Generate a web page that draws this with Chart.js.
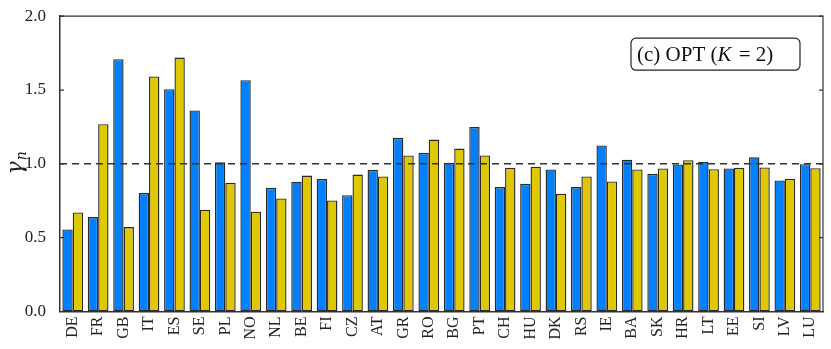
<!DOCTYPE html>
<html>
<head>
<meta charset="utf-8">
<script src="https://cdn.jsdelivr.net/npm/chart.js@4/dist/chart.umd.min.js"></script>
<style>
  html, body { margin: 0; padding: 0; background: #fff; }
  #wrap { width: 831px; height: 349px; }
</style>
</head>
<body>
<div id="wrap"><canvas id="gammaChart" width="831" height="349"></canvas></div>
<script>
// Datos
const countries = ['DE', 'FR', 'GB', 'IT', 'ES', 'SE', 'PL', 'NO', 'NL', 'BE',
  'FI', 'CZ', 'AT', 'GR', 'RO', 'BG', 'PT', 'CH', 'HU', 'DK',
  'RS', 'IE', 'BA', 'SK', 'HR', 'LT', 'EE', 'SI', 'LV', 'LU'];

const blueValues = [0.556, 0.640, 1.709, 0.802, 1.506, 1.362, 1.010, 1.567, 0.838, 0.879,
  0.897, 0.788, 0.960, 1.176, 1.075, 1.007, 1.249, 0.843, 0.865, 0.962,
  0.843, 1.125, 1.028, 0.933, 0.996, 1.012, 0.969, 1.044, 0.888, 0.998];

const yellowValues = [0.671, 1.269, 0.572, 1.592, 1.720, 0.689, 0.872, 0.675, 0.766, 0.921,
  0.752, 0.928, 0.915, 1.057, 1.165, 1.104, 1.057, 0.973, 0.980, 0.797,
  0.915, 0.881, 0.962, 0.969, 1.025, 0.964, 0.973, 0.976, 0.899, 0.971];

const yTicks = [0, 0.5, 1.0, 1.5, 2.0];
const referenceLevel = 1.0;
const panelLabel = '(c) OPT (';

const serif = '"Liberation Serif", "DejaVu Serif", serif';
const axisColor = '#333';

// Marco superior/derecho, ticks hacia dentro, linea discontinua y titulo del eje
const framePlugin = {
  id: 'frame',
  afterDatasetsDraw(chart) {
    const { ctx, chartArea: a, scales } = chart;
    const y = scales.y;
    ctx.save();

    // linea de referencia
    ctx.strokeStyle = axisColor;
    ctx.lineWidth = 1.5;
    ctx.setLineDash([7, 5]);
    const yRef = y.getPixelForValue(referenceLevel);
    ctx.beginPath();
    ctx.moveTo(a.left, yRef);
    ctx.lineTo(a.right, yRef);
    ctx.stroke();
    ctx.setLineDash([]);

    // marco
    ctx.lineWidth = 1.2;
    ctx.beginPath();
    ctx.moveTo(a.left, a.top);
    ctx.lineTo(a.right, a.top);
    ctx.lineTo(a.right, a.bottom);
    ctx.stroke();

    // ticks internos
    yTicks.forEach(v => {
      const py = y.getPixelForValue(v);
      ctx.beginPath();
      ctx.moveTo(a.left, py);
      ctx.lineTo(a.left + 4, py);
      ctx.moveTo(a.right, py);
      ctx.lineTo(a.right - 4, py);
      ctx.stroke();
    });

    // caja del panel
    const bx = a.right - 192, by = a.top + 22, bw = 169, bh = 32;
    ctx.beginPath();
    ctx.roundRect(bx, by, bw, bh, 5);
    ctx.fillStyle = '#fff';
    ctx.fill();
    ctx.lineWidth = 1.2;
    ctx.strokeStyle = '#222';
    ctx.stroke();

    ctx.fillStyle = '#111';
    ctx.textBaseline = 'middle';
    ctx.textAlign = 'left';
    let tx = bx + 6;
    const ty = by + bh / 2 + 1;
    ctx.font = '21px ' + serif;
    ctx.fillText(panelLabel, tx, ty);
    tx += ctx.measureText(panelLabel).width;
    ctx.font = 'italic 21px ' + serif;
    ctx.fillText('K', tx, ty);
    tx += ctx.measureText('K').width + 2;
    ctx.font = '21px ' + serif;
    ctx.fillText(' = 2)', tx, ty);

    // titulo del eje y: gamma con subindice n
    ctx.translate(22, y.getPixelForValue(1.0));
    ctx.rotate(-Math.PI / 2);
    ctx.fillStyle = '#222';
    ctx.textBaseline = 'alphabetic';
    ctx.font = 'italic 22px "DejaVu Serif", serif';
    const gw = ctx.measureText('γ').width;
    ctx.fillText('γ', -gw / 2 - 4, 0);
    ctx.font = 'italic 14px "DejaVu Serif", serif';
    ctx.fillText('n', gw / 2 - 3, 4);

    ctx.restore();
  }
};

const ctx = document.getElementById('gammaChart');

new Chart(ctx, {
  type: 'bar',
  data: {
    labels: countries,
    datasets: [{
      label: 'blue',
      data: blueValues,
      backgroundColor: '#0080ff',
      borderColor: '#2a2a2a',
      borderWidth: 1.4,
      borderSkipped: false
    }, {
      label: 'yellow',
      data: yellowValues,
      backgroundColor: '#e0c800',
      borderColor: '#2a2a2a',
      borderWidth: 1.4,
      borderSkipped: false
    }]
  },
  options: {
    responsive: false,
    animation: false,
    categoryPercentage: 0.815,
    barPercentage: 1.0,
    layout: { padding: { top: 16, right: 8, left: 0, bottom: 0 } },
    plugins: {
      legend: { display: false },
      tooltip: { enabled: false }
    },
    scales: {
      x: {
        grid: { display: false },
        border: { display: true, color: axisColor, width: 1.5 },
        ticks: {
          color: '#222',
          font: { family: serif, size: 16 },
          minRotation: 90,
          maxRotation: 90,
          padding: -3,
          autoSkip: false
        },
        afterFit(scale) { scale.height = 37.5; }
      },
      y: {
        min: 0,
        max: 2,
        grid: { display: false },
        border: { display: true, color: axisColor, width: 1.5 },
        ticks: {
          stepSize: 0.5,
          color: '#222',
          font: { family: serif, size: 17 },
          padding: 6,
          callback: v => v.toFixed(1)
        },
        afterFit(scale) { scale.width = 60; }
      }
    }
  },
  plugins: [framePlugin]
});
</script>
</body>
</html>
